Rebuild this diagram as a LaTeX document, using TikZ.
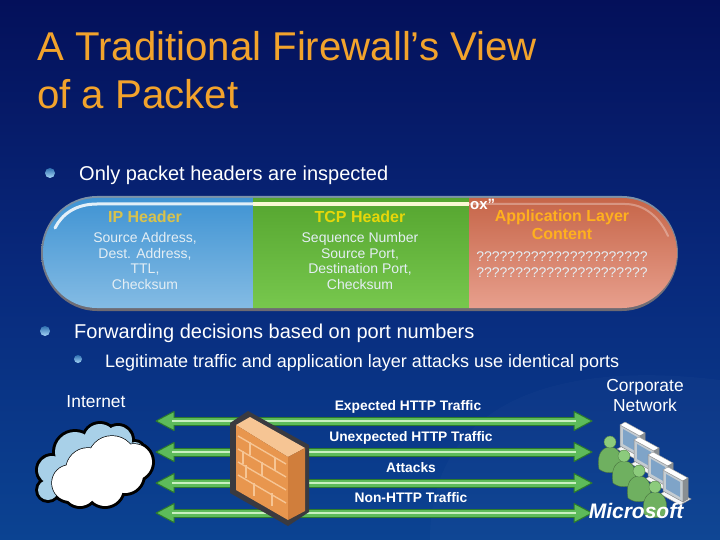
\documentclass[tikz,border=0pt]{standalone}
\usepackage{fontspec}
\setmainfont{Liberation Sans}
\usetikzlibrary{arrows.meta,shapes.geometric}
\definecolor{ttl}{HTML}{F2A32C}
\definecolor{navy}{HTML}{04105A}
\definecolor{midb}{HTML}{08297C}
\definecolor{lowb}{HTML}{0B4392}
\definecolor{bbulD}{HTML}{2F6FB0}
\definecolor{bbul}{HTML}{A8D8F8}
\definecolor{ipc}{HTML}{D8C24C}
\definecolor{tcpc}{HTML}{E6D70A}
\definecolor{appc}{HTML}{FFB01E}
\definecolor{bodyt}{HTML}{E4EEF4}
\definecolor{bluA}{HTML}{3F93D3}
\definecolor{bluB}{HTML}{85BCE4}
\definecolor{grnA}{HTML}{55A52F}
\definecolor{grnB}{HTML}{78C84E}
\definecolor{redA}{HTML}{C66548}
\definecolor{redB}{HTML}{E8A08E}
\definecolor{rimT}{HTML}{7D93A8}
\definecolor{rimB}{HTML}{6E6A72}
\definecolor{arD}{HTML}{2C7A2C}
\definecolor{arM}{HTML}{5DBB5A}
\definecolor{arL}{HTML}{C8F0C0}
\definecolor{brk}{HTML}{E8964E}
\definecolor{brkD}{HTML}{D07E3C}
\definecolor{brkL}{HTML}{F6C594}
\definecolor{fwo}{HTML}{3A3A40}
\definecolor{usr}{HTML}{6FB060}
\definecolor{usrL}{HTML}{8CCB7C}
\definecolor{pcg}{HTML}{C4CCD2}
\definecolor{pcs}{HTML}{7FA4C8}
\definecolor{cldb}{HTML}{A8D0E8}
\tikzset{
 x=1pt,y=-1pt,
 titlet/.style={anchor=west,text=ttl,font=\fontsize{40.2}{40}\selectfont,inner sep=0},
 bult/.style={anchor=west,text=white,font=\fontsize{20}{20}\selectfont,inner sep=0},
 subt/.style={anchor=west,text=white,font=\fontsize{18}{18}\selectfont,inner sep=0},
 headt/.style={align=center,font=\bfseries\fontsize{16}{17.5}\selectfont,inner sep=0},
 cellt/.style={align=center,text=bodyt,font=\fontsize{14}{15.5}\selectfont,inner sep=0},
 labt/.style={text=white,align=center,font=\fontsize{17.4}{20}\selectfont,inner sep=0},
 traf/.style={text=white,font=\bfseries\fontsize{13.8}{14}\selectfont,inner sep=0},
 bar/.style={line width=9pt,draw=arD},
 barM/.style={line width=7pt,draw=arM},
 barL/.style={line width=2.5pt,draw=arL},
 head/.style={fill=arM,draw=arD,line width=1pt,line join=round},
 bull/.style={circle,inner sep=0,minimum size=10pt,top color=bbulD,bottom color=bbul},
 pcbox/.style={fill=pcg,draw=black!45,line width=.5pt},
}
\newcommand{\trafficarrow}[3]{%
 \coordinate (#1L) at (156,#2); \coordinate (#1R) at (592,#2);
 \draw[bar] ([xshift=16pt]#1L) -- ([xshift=-16pt]#1R);
 \fill[head] (#1L) -- ++(18,-9.5) -- ++(0,19) -- cycle;
 \fill[head] (#1R) -- ++(-18,-9.5) -- ++(0,19) -- cycle;
 \draw[barM] ([xshift=16pt]#1L) -- ([xshift=-16pt]#1R);
 \draw[barL] ([xshift=16pt]#1L) -- ([xshift=-16pt]#1R);
}
\newcommand{\onepc}[2]{%
 \begin{scope}[shift={(#1,#2)}]
 \fill[pcbox,fill=white!85!pcg] (-3,24) -- (17,35) -- (28,29) -- (8,18) -- cycle;
 \fill[pcbox] (0,0) -- (20,11) -- (20,32) -- (0,21) -- cycle;
 \fill[fill=white,draw=black!40] (0,0) -- (5,-3) -- (25,8) -- (20,11) -- cycle;
 \fill[pcbox,fill=pcg!70!black] (20,11) -- (25,8) -- (25,29) -- (20,32) -- cycle;
 \fill[pcs] (3,4) -- (17,12) -- (17,27) -- (3,19) -- cycle;
 \end{scope}}
\newcommand{\oneusr}[2]{%
 \begin{scope}[shift={(#1,#2)}]
 \fill[usr,draw=black!35!usr] (-11,33) .. controls (-14,16) and (-6,11) .. (0,11) .. controls (6,11) and (14,16) .. (11,33) .. controls (5,38) and (-5,38) .. (-11,33) -- cycle;
 \fill[usrL,draw=black!25!usr] (0,6) circle[radius=6];
 \end{scope}}
\begin{document}
\begin{tikzpicture}
\useasboundingbox (0,0) rectangle (720,540);
% background
\shade[top color=navy,bottom color=lowb,middle color=midb] (0,0) rectangle (720,540);
\fill[white,opacity=.02] (430,540) .. controls (430,400) and (560,360) .. (720,380) -- (720,540) -- cycle;
% title
\node[titlet] (t1) at (37,46) {A Traditional Firewall’s View};
\node[titlet] (t2) at (37,94) {of a Packet};
% bullets
\node[bull] (b1) at (50,173) {};
\node[bult] (l1) at (79,175) {Only packet headers are inspected};
\node[bull] (b2) at (45,331) {};
\node[bult] (l2) at (74,333) {Forwarding decisions based on port numbers};
\node[bull,minimum size=8pt] (b3) at (78,359) {};
\node[subt] (l3) at (105,363) {Legitimate traffic and application layer attacks use identical ports};
% pill
\shade[top color=rimT,bottom color=rimB] (41,253) .. controls (41,222) and (66,196) .. (97,196) -- (622,196) .. controls (653,196) and (678,222) .. (678,253) .. controls (678,284) and (653,311) .. (622,311) -- (97,311) .. controls (66,311) and (41,284) .. (41,253) -- cycle;
\begin{scope}
\clip (43,253) .. controls (43,223) and (67,198) .. (97,198) -- (622,198) .. controls (652,198) and (677,223) .. (677,253) .. controls (677,283) and (652,308) .. (622,308) -- (97,308) .. controls (67,308) and (43,283) .. (43,253) -- cycle;
\shade[top color=bluA,bottom color=bluB] (40,197) rectangle (253,310);
\shade[top color=grnA,bottom color=grnB] (253,197) rectangle (469,310);
\shade[top color=redA,bottom color=redB] (469,197) rectangle (680,310);
\end{scope}
\draw[white,opacity=.85,line width=3pt,line cap=round] (55,228) .. controls (62,214) and (76,204) .. (97,204) -- (253,204);
\draw[white!82!tcpc,line width=3.5pt] (253,204) -- (469,204);
\draw[white,opacity=.3,line width=2pt,line cap=round] (469,204) -- (625,204) .. controls (645,204) and (660,218) .. (668,236);
% pill text
\node[headt,text=ipc] (h1) at (145,217) {IP Header};
\node[headt,text=tcpc] (h2) at (360,217) {TCP Header};
\node[headt,text=appc] (h3) at (562,225) {Application Layer\\Content};
\node[cellt] (c1) at (145,261) {Source Address,\\Dest. Address,\\TTL,\\Checksum};
\node[cellt] (c2) at (360,261) {Sequence Number\\Source Port,\\Destination Port,\\Checksum};
\node[cellt] (c3) at (562,264.5) {??????????????????????\\??????????????????????};
\node[anchor=base west,text=white,font=\bfseries\fontsize{15}{15}\selectfont,inner sep=0] (ox) at (470,210) {ox”};
% arrows
\trafficarrow{a}{421}{}
\trafficarrow{b}{452}{}
\trafficarrow{c}{483}{}
\trafficarrow{d}{513}{}
% cloud
\foreach \a/\b/\r in {52/470/14,48/490/10,75/452/20,100/440/16,118/440/14,135/450/8,70/483/18,88/470/22,112/460/24,134/462/18,80/490/16,105/488/18,125/475/18}{\fill[black] (\a,\b) circle[radius=\r+3];}
\foreach \a/\b/\r in {52/470/14,48/490/10,75/452/20,100/440/16,118/440/14,135/450/8}{\fill[cldb] (\a,\b) circle[radius=\r];}
\foreach \a/\b/\r in {70/483/18,88/470/22,112/460/24,134/462/18,80/490/16,105/488/18,125/475/18}{\fill[black] (\a,\b) circle[radius=\r+.7];}
\foreach \a/\b/\r in {70/483/18,88/470/22,112/460/24,134/462/18,80/490/16,105/488/18,125/475/18}{\fill[white] (\a,\b) circle[radius=\r];}
% firewall
\fill[fwo] (230,423) -- (248,411) -- (309,445) -- (309,512) -- (288,526) -- (230,493) -- cycle;
\fill[brkL] (236,425) -- (250,417) -- (305,448) -- (288,457) -- cycle;
\fill[brk] (236,425) -- (288,457) -- (288,520) -- (236,490) -- cycle;
\fill[brkD] (288,457) -- (305,448) -- (305,511) -- (288,520) -- cycle;
\foreach \y in {436,449,462,475}{\draw[brkL,line width=1.4pt] (238,\y) -- (286,\y+28);}
\draw[brkL,line width=1.4pt] (250,442) -- (250,455) (275,457) -- (275,470) (243,451) -- (243,464) (262,462) -- (262,476) (254,483) -- (254,496) (272,493) -- (272,506) (246,465) -- (246,478);
% users
\onepc{620}{425}
\onepc{634}{440}
\onepc{648}{455}
\onepc{663}{470}
\oneusr{610}{436}
\oneusr{624}{450}
\oneusr{639}{465}
\oneusr{655}{481}
% labels
\node[labt] (n1) at (96,402) {Internet};
\node[labt] (n2) at (645,396) {Corporate\\Network};
\node[traf] (e1) at (408,406.5) {Expected HTTP Traffic};
\node[traf] (e2) at (411,437.5) {Unexpected HTTP Traffic};
\node[traf] (e3) at (411,467.5) {Attacks};
\node[traf] (e4) at (411,497.5) {Non-HTTP Traffic};
\node[text=white,font=\bfseries\itshape\fontsize{21}{21}\selectfont,inner sep=0] (ms) at (636,511) {Microsoft};
\end{tikzpicture}
\end{document}
